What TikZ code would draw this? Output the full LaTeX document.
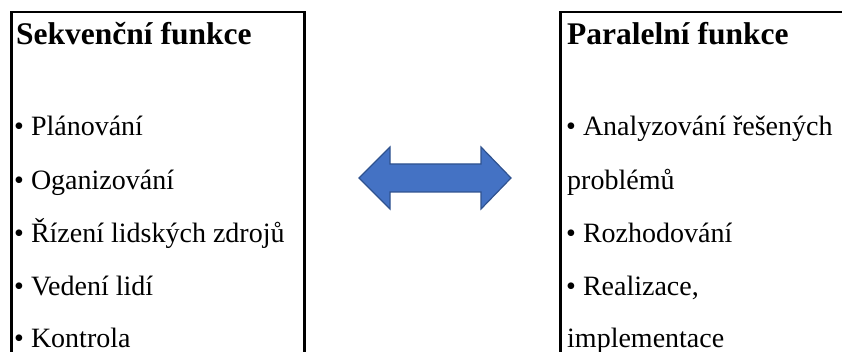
\documentclass[tikz,border=0pt]{standalone}
\usepackage{fontspec}
\setmainfont{Liberation Serif}
\begin{document}
\begin{tikzpicture}[x=1pt,y=1pt,
  panel/.style={draw=black,line width=2.5pt,fill=none,inner sep=0pt,anchor=north west},
  titletext/.style={anchor=base west,inner sep=0pt,font=\fontsize{31.5}{32}\selectfont\bfseries},
  itemtext/.style={anchor=base west,inner sep=0pt,font=\fontsize{28}{28}\selectfont},
  bluearrow/.style={fill=arrowblue,draw=arrowedge,line width=1.2pt,line join=miter}]
\definecolor{arrowblue}{HTML}{4472C4}
\definecolor{arrowedge}{HTML}{2F528F}
\useasboundingbox (0,0) rectangle (842,-352);
\clip (0,0) rectangle (842,-352);
% panels
\node[panel,minimum width=293pt,minimum height=420pt] (left) at (10,-11) {};
\node[panel,minimum width=340pt,minimum height=420pt] (right) at (559,-11) {};
% left texts
\node[titletext] (lt) at (16,-45) {Sekvenční funkce};
\node[itemtext] (l1) at (14,-136) {• Plánování};
\node[itemtext] (l2) at (14,-190) {• Oganizování};
\node[itemtext] (l3) at (14,-243) {• Řízení lidských zdrojů};
\node[itemtext] (l4) at (14,-295) {• Vedení lidí};
\node[itemtext] (l5) at (14,-347) {• Kontrola};
% right texts
\node[titletext] (rt) at (567,-45) {Paralelní funkce};
\node[itemtext] (r1) at (566,-136) {• Analyzování řešených};
\node[itemtext] (r2) at (567,-190) {problémů};
\node[itemtext] (r3) at (566,-243) {• Rozhodování};
\node[itemtext] (r4) at (566,-295) {• Realizace,};
\node[itemtext] (r5) at (567,-347) {implementace};
% double arrow
\draw[bluearrow] (359,-178) -- (390,-147) -- (390,-164) -- (481,-164) -- (481,-147)
  -- (511,-178) -- (481,-209) -- (481,-192) -- (390,-192) -- (390,-209) -- cycle;
\end{tikzpicture}
\end{document}
